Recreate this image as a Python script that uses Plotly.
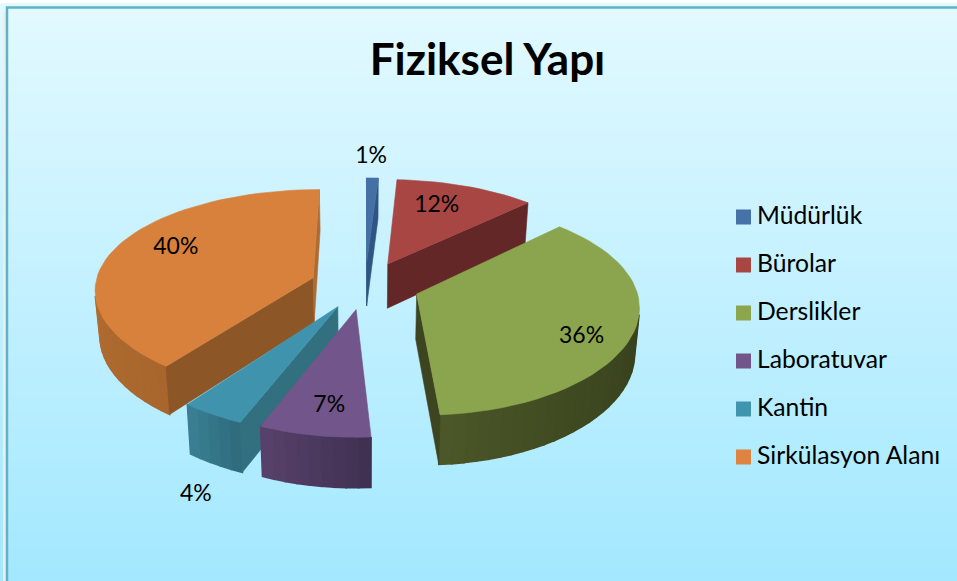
import numpy as np
import plotly.graph_objects as go

# ---- data ----
categories = ["Müdürlük", "Bürolar", "Derslikler", "Laboratuvar", "Kantin", "Sirkülasyon Alanı"]
shares = [1, 12, 36, 7, 4, 40]

# ---- styles ----
top_colors = ["#4570A6", "#A84644", "#8BA54E", "#72558A", "#3F93AD", "#D8813C"]
cut_colors = ["#38608F", "#622726", "#3A431E", "#46355A", "#32707F", "#8C5626"]
cut_side_end = ["#2F5584", "#622726", "#3C4520", "#46355A", "#32707F", "#B06C30"]
rim_start = ["#3A6496", "#622726", "#37401D", "#3F3050", "#2E6B7C", "#A8662D"]
rim_end = ["#3A6496", "#622726", "#4C5828", "#58426C", "#3A8094", "#C27936"]
rim_gamma = [1, 1, 3, 1, 1, 1]
swatch_colors = ["#4672A8", "#A84644", "#8CA64D", "#72558A", "#4095AE", "#DE8340"]

label_radius = [1.60, 0.975, 1.038, 0.99, 1.655, 1.0]
label_angle = [1.2, 22.1, 116.1, 188.3, 202.0, 294.2]

# ---- projection of the tilted, exploded pie ----
CX, CY = 365.0, 285.0
A, B, K, KX = 218.5, 102.0, 0.162, 0.13
DEPTH, EXPLODE, EXPLODE_X, TAPER = 45.0, 0.235, 1.07, 0.982
ARC_SHIFT = 0.03
STEP = 3.0
FONT = "Lato, Carlito, Calibri, sans-serif"


def project(u, v, low=False):
    x = CX + A * u / (1 + KX * v)
    y = CY - B * v / (1 + K * v)
    if low:
        x = CX + (x - CX) * TAPER
        y = y + DEPTH / (1 + 0.09 * v)
    return x, y


def mix(c1, c2, t):
    a = [int(c1[i:i + 2], 16) for i in (1, 3, 5)]
    b = [int(c2[i:i + 2], 16) for i in (1, 3, 5)]
    return "rgb(%d,%d,%d)" % tuple(round(p + (q - p) * t) for p, q in zip(a, b))


def signed_area(xs, ys):
    xs, ys = np.asarray(xs), np.asarray(ys)
    return 0.5 * np.sum(xs * np.roll(ys, -1) - np.roll(xs, -1) * ys)


def polygon(fig, xs, ys, color, width=0.6):
    fig.add_trace(go.Scatter(x=list(xs) + [xs[0]], y=list(ys) + [ys[0]], mode="lines", fill="toself",
                             fillcolor=color, line=dict(color=color, width=width),
                             hoverinfo="skip", showlegend=False))


fig = go.Figure()

# panel gradient
grad_y = np.linspace(8, 581, 60)
fig.add_trace(go.Heatmap(x=[8, 957], y=grad_y, z=[[g, g] for g in grad_y], zsmooth="best", showscale=False,
                         colorscale=[[0, "#E2F9FF"], [1, "#A3E8FF"]], hoverinfo="skip"))

total = sum(shares)
edges = np.concatenate([[0], np.cumsum(shares)]) / total * 360.0
slices = [(edges[i], edges[i + 1], i) for i in range(len(shares))]
# back to front, by the plane depth of each slice's bisector
slices.sort(key=lambda s: -np.cos(np.radians((s[0] + s[1]) / 2)))

for t0, t1, i in slices:
    mid = np.radians((t0 + t1) / 2)
    ou, ov = EXPLODE * EXPLODE_X * np.sin(mid), EXPLODE * np.cos(mid)
    n = max(2, int(np.ceil((t1 - t0) / STEP)) + 1)
    th = np.radians(np.linspace(t0, t1, n))
    us, vs = ou + np.sin(th), ov + np.cos(th) + ARC_SHIFT

    tx, ty = project(us, vs)
    ax, ay = project(ou, ov)
    bx, by = project(us, vs, True)
    apx, apy = project(ou, ov, True)

    # rim strips: thicker outlines close the seams between neighbours
    for j in range(n - 1):
        qx = [tx[j], tx[j + 1], bx[j + 1], bx[j]]
        qy = [ty[j], ty[j + 1], by[j + 1], by[j]]
        if signed_area(qx, qy) < 0:
            t = ((j + 0.5) / (n - 1)) ** rim_gamma[i]
            polygon(fig, qx, qy, mix(rim_start[i], rim_end[i], t), width=1.6)
    # the two cut walls
    qx = [ax, tx[0], bx[0], apx]
    qy = [ay, ty[0], by[0], apy]
    if signed_area(qx, qy) < 0:
        polygon(fig, qx, qy, cut_colors[i])
    qx = [tx[-1], ax, apx, bx[-1]]
    qy = [ty[-1], ay, apy, by[-1]]
    if signed_area(qx, qy) < 0:
        polygon(fig, qx, qy, cut_side_end[i])
    # top face
    polygon(fig, [ax] + list(tx), [ay] + list(ty), top_colors[i])

# percentage labels
lu = [r * np.sin(np.radians(a)) for r, a in zip(label_radius, label_angle)]
lv = [r * np.cos(np.radians(a)) for r, a in zip(label_radius, label_angle)]
lx, ly = project(np.array(lu), np.array(lv))
fig.add_trace(go.Scatter(x=lx, y=ly + 2, mode="text", text=[f"{s}%" for s in shares],
                         textposition="middle center", textfont=dict(family=FONT, size=23, color="#000000"),
                         hoverinfo="skip", showlegend=False))

# legend column
leg_y = [217 + 48 * i for i in range(len(categories))]
fig.add_trace(go.Scatter(x=[743.5] * len(categories), y=leg_y, mode="markers",
                         marker=dict(symbol="square", size=15, color=swatch_colors, line=dict(width=0)),
                         hoverinfo="skip", showlegend=False))
fig.add_trace(go.Scatter(x=[757] * len(categories), y=[v + 1 for v in leg_y], mode="text", text=categories,
                         textposition="middle right", textfont=dict(family=FONT, size=24.7, color="#000000"),
                         hoverinfo="skip", showlegend=False))

shapes = [
    dict(type="line", xref="x", yref="y", x0=4.5, x1=4.5, y0=12, y1=581, line=dict(color="#EDEDED", width=3), layer="above"),
    dict(type="rect", xref="x", yref="y", x0=7, y0=7.5, x1=1000, y1=1000, line=dict(color="#5FB2C8", width=2.5), layer="above"),
]

fig.update_layout(
    width=957, height=581, margin=dict(l=0, r=0, t=0, b=0), autosize=False,
    paper_bgcolor="#FFFFFF", plot_bgcolor="#FFFFFF", showlegend=False, shapes=shapes,
    title=dict(text="<b>Fiziksel Yapı</b>", x=487.5 / 957, xanchor="center", y=1 - 60 / 581, yanchor="middle",
               font=dict(family=FONT, size=44, color="#000000")),
    xaxis=dict(range=[0, 957], visible=False, domain=[0, 1], fixedrange=True),
    yaxis=dict(range=[581, 0], visible=False, domain=[0, 1], fixedrange=True),
)

fig.write_html("out.html", config={"displayModeBar": False},
               post_script="document.body.style.margin='0';document.body.style.overflow='hidden';")
